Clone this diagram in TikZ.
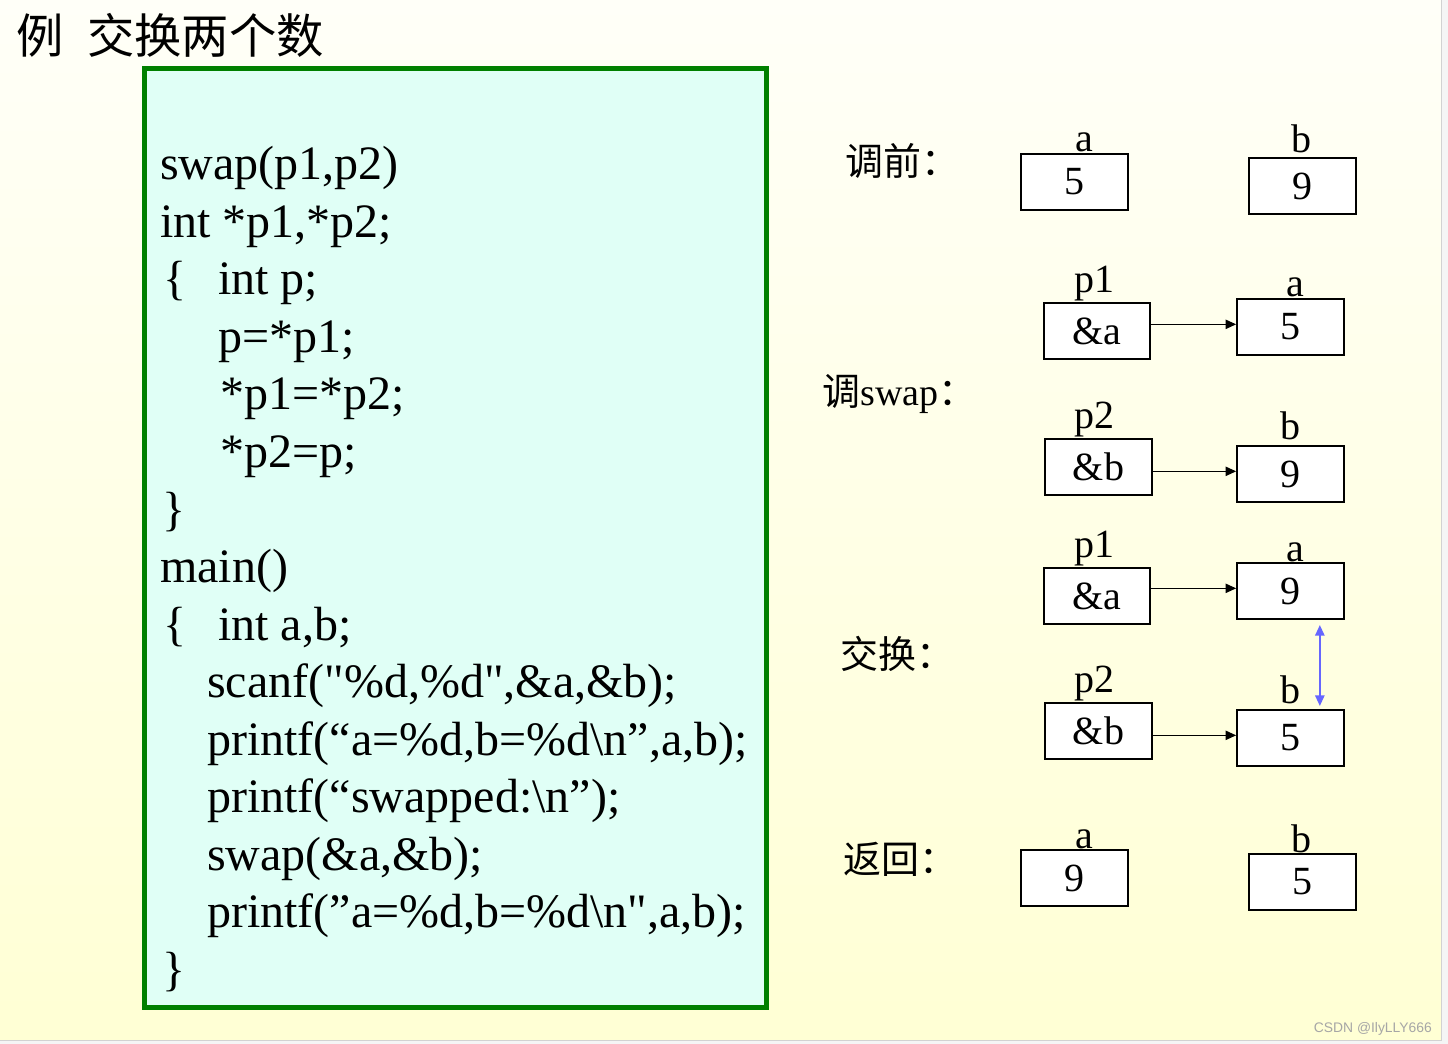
\documentclass[tikz,border=0pt]{standalone}
\usepackage{fontspec}
\setmainfont{Liberation Serif}
\newfontfamily\codefont{Liberation Serif}
\newfontfamily\cjk{Noto Sans CJK SC}
\newfontfamily\wmfont{Liberation Sans}
\usetikzlibrary{arrows.meta}
\definecolor{bgtop}{HTML}{FFFFF8}
\definecolor{bgbot}{HTML}{FFFFD4}
\definecolor{codegreen}{HTML}{008000}
\definecolor{codebg}{HTML}{E0FFF6}
\definecolor{swapblue}{HTML}{6666FF}
\tikzstyle{codeline}=[anchor=base west,inner sep=0pt,font=\codefont\fontsize{36pt}{43pt}\selectfont]
\tikzstyle{stage}=[anchor=base west,inner sep=0pt,font=\cjk\fontsize{28.5pt}{34pt}\selectfont]
\tikzstyle{cell}=[draw,line width=1.5pt,fill=white,minimum width=80pt,minimum height=42pt,inner sep=0pt,font=\fontsize{30pt}{36pt}\selectfont]
\tikzstyle{varname}=[anchor=base,inner sep=0pt,font=\fontsize{30pt}{36pt}\selectfont]
\tikzstyle{ptr}=[-{Triangle[length=8pt,width=7pt]},line width=1.1pt]
\tikzstyle{swp}=[{Triangle[length=8pt,width=7pt]}-{Triangle[length=8pt,width=7pt]},line width=1.3pt,draw=swapblue,fill=swapblue]

\begin{document}
\begin{tikzpicture}[x=0.75pt,y=-0.75pt]
    \useasboundingbox (0,0) rectangle (1448,1044);
    \shade[top color=bgtop,bottom color=bgbot] (0,0) rectangle (1448,1044);
    \fill[gray!8] (1441,0) rectangle (1448,1044);
    \fill[gray!8] (0,1040) rectangle (1448,1044);
    \draw[gray!35,line width=0.75pt] (1441,0) -- (1441,1040) -- (0,1040);

    % title and code
    \node[anchor=base west,inner sep=0pt,font=\cjk\fontsize{35.5pt}{42pt}\selectfont] (title) at (16,54) {例\hspace{0.5em}交换两个数};
    \draw[codegreen,line width=3.75pt,fill=codebg] (144.5,68.5) rectangle (766.5,1007.5);
    \node[codeline] (c1) at (160,180) {swap(p1,p2)};
    \node[codeline] (c2) at (160,237.5) {int *p1,*p2;};
    \node[codeline] (c3a) at (163,295) {\{};
    \node[codeline] (c3) at (218,295) {int p;};
    \node[codeline] (c4) at (218,352.5) {p=*p1;};
    \node[codeline] (c5) at (220,410) {*p1=*p2;};
    \node[codeline] (c6) at (220,467.5) {*p2=p;};
    \node[codeline] (c7) at (162,525) {\}};
    \node[codeline] (c8) at (160,582.5) {main()};
    \node[codeline] (c9a) at (163,640) {\{};
    \node[codeline] (c9) at (218,640) {int a,b;};
    \node[codeline] (c10) at (207,697.5) {scanf("\%d,\%d",\&a,\&b);};
    \node[codeline] (c11) at (207,755) {printf(“a=\%d,b=\%d\textbackslash n”,a,b);};
    \node[codeline] (c12) at (207,812.5) {printf(“swapped:\textbackslash n”);};
    \node[codeline] (c13) at (207,870) {swap(\&a,\&b);};
    \node[codeline] (c14) at (207,927.5) {printf(”a=\%d,b=\%d\textbackslash n",a,b);};
    \node[codeline] (c15) at (162,985) {\}};

    % stages
    \node[stage] (s1) at (845,176) {调前：};
    \node[stage] (s2) at (822,406) {调{\rmfamily swap}：};
    \node[stage] (s3) at (840,668) {交换：};
    \node[stage] (s4) at (843,873) {返回：};

    % memory cells
    \node[cell] (A0) at (1074.5,182) {5};
    \node[cell] (B0) at (1302.5,186) {9};
    \node[cell] (P1) at (1097,331) {\&a};
    \node[cell] (A1) at (1290.5,327) {5};
    \node[cell] (P2) at (1098.5,467) {\&b};
    \node[cell] (B1) at (1290.5,474) {9};
    \node[cell] (P3) at (1097,596) {\&a};
    \node[cell] (A2) at (1290.5,591) {9};
    \node[cell] (P4) at (1098.5,731) {\&b};
    \node[cell] (B2) at (1290.5,738) {5};
    \node[cell] (A3) at (1074.5,878) {9};
    \node[cell] (B3) at (1302.5,882) {5};

    \node[varname] (la0) at (1084,152) {a};
    \node[varname] (lb0) at (1301,153) {b};
    \node[varname] (lp1) at (1094,293) {p1};
    \node[varname] (la1) at (1295,297) {a};
    \node[varname] (lp2) at (1094,428) {p2};
    \node[varname] (lb1) at (1290,440) {b};
    \node[varname] (lp3) at (1094,557) {p1};
    \node[varname] (la2) at (1295,561) {a};
    \node[varname] (lp4) at (1094,692) {p2};
    \node[varname] (lb2) at (1290,703) {b};
    \node[varname] (la3) at (1084,848) {a};
    \node[varname] (lb3) at (1301,852) {b};

    \foreach \from/\to in {P1/A1,P2/B1,P3/A2,P4/B2}
    \draw[ptr] ([yshift=2pt]\to.west -| \from.east) -- ([yshift=2pt]\to.west);
    \draw[swp] ([xshift=22pt,yshift=-3.75pt]A2.south) -- ([xshift=22pt,yshift=2.25pt]B2.north);

    \node[anchor=base east,inner sep=0pt,text=gray!70,font=\wmfont\fontsize{10.4pt}{12pt}\selectfont] (mark) at (1432,1032) {CSDN @IlyLLY666};
\end{tikzpicture}
\end{document}
